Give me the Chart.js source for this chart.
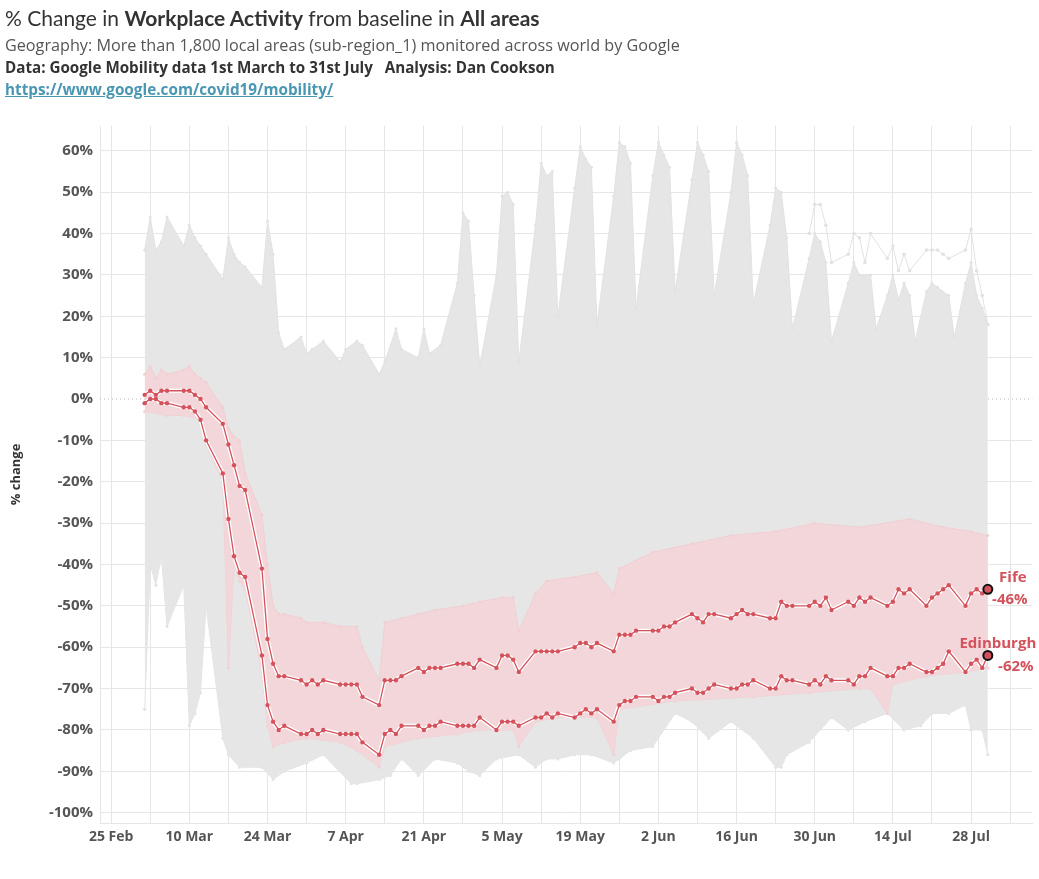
<!DOCTYPE html>
<html>
<head>
<meta charset="utf-8">
<script src="https://cdn.jsdelivr.net/npm/chart.js@4.4.1/dist/chart.umd.min.js"></script>
<style>
html,body{margin:0;padding:0;background:#fff;}
#wrap{position:relative;width:1039px;height:879px;overflow:hidden;}
#c{position:absolute;left:0;top:0;}
.hd{position:absolute;left:5px;white-space:nowrap;font-family:"Open Sans",sans-serif;}
#t1{top:5px;font-size:21px;color:#333;font-family:Lato,sans-serif;}
#t2{top:34px;font-size:16.2px;color:#555;}
#t3{top:57px;font-size:15.2px;color:#333;font-weight:bold;}
#t4{top:79px;font-size:15.3px;color:#4a97b3;font-weight:bold;text-decoration:underline;}
b{font-weight:bold;}
</style>
</head>
<body>
<div id="wrap">
<canvas id="c" width="1039" height="879"></canvas>
<div class="hd" id="t1">% Change in <b>Workplace Activity</b> from baseline in <b>All areas</b></div>
<div class="hd" id="t2">Geography: More than 1,800 local areas (sub-region_1) monitored across world by Google</div>
<div class="hd" id="t3">Data: Google Mobility data 1st March to 31st July&nbsp;&nbsp; Analysis: Dan Cookson</div>
<div class="hd" id="t4">https://www.google.com/covid19/mobility/</div>
</div>
<script>
// ---------- DATA ----------
const seriesDates = [
 '03-02','03-03','03-04','03-05','03-06','03-09','03-10','03-11','03-12','03-13',
 '03-16','03-17','03-18','03-19','03-20','03-23','03-24','03-25','03-26','03-27',
 '03-30','03-31','04-01','04-02','04-03','04-06','04-07','04-08','04-09','04-10',
 '04-13','04-14','04-15','04-16','04-17','04-20','04-21','04-22','04-23','04-24',
 '04-27','04-28','04-29','04-30','05-01','05-04','05-05','05-06','05-07','05-08',
 '05-11','05-12','05-13','05-14','05-15','05-18','05-19','05-20','05-21','05-22',
 '05-25','05-26','05-27','05-28','05-29','06-01','06-02','06-03','06-04','06-05',
 '06-08','06-09','06-10','06-11','06-12','06-15','06-16','06-17','06-18','06-19',
 '06-22','06-23','06-24','06-25','06-26','06-29','06-30','07-01','07-02','07-03',
 '07-06','07-07','07-08','07-09','07-10','07-13','07-14','07-15','07-16','07-17',
 '07-20','07-21','07-22','07-23','07-24','07-27','07-28','07-29','07-30','07-31'
];
const fifeValues = [
 1,2,1,2,2, 2,2,1,0,-2,
 -6,-11,-16,-21,-22, -41,-58,-64,-67,-67,
 -68,-69,-68,-69,-68, -69,-69,-69,-69,-72,
 -74,-68,-68,-68,-67, -65,-66,-65,-65,-65,
 -64,-64,-64,-65,-63, -65,-62,-62,-63,-66,
 -61,-61,-61,-61,-61, -60,-59,-59,-60,-59,
 -61,-57,-57,-57,-56, -56,-56,-55,-55,-54,
 -52,-53,-54,-52,-52, -53,-52,-51,-52,-52,
 -53,-53,-49,-50,-50, -50,-49,-50,-48,-51,
 -49,-50,-48,-49,-48, -50,-49,-46,-47,-46,
 -50,-48,-47,-46,-45, -50,-47,-46,-47,-46
];
const edinburghValues = [
 -1,0,0,-1,-1, -2,-2,-3,-5,-10,
 -18,-29,-38,-42,-43, -62,-74,-78,-80,-79,
 -81,-81,-80,-81,-80, -81,-81,-81,-81,-83,
 -86,-81,-80,-81,-79, -79,-80,-79,-79,-78,
 -79,-79,-79,-79,-77, -80,-78,-78,-78,-79,
 -77,-77,-76,-77,-76, -77,-76,-75,-76,-75,
 -78,-74,-73,-73,-72, -72,-73,-72,-72,-71,
 -70,-71,-71,-70,-69, -70,-70,-69,-69,-68,
 -70,-70,-67,-68,-68, -69,-68,-69,-67,-68,
 -68,-69,-67,-67,-65, -67,-67,-65,-65,-64,
 -66,-66,-65,-64,-61, -66,-64,-63,-65,-62
];

// outline of the grey cloud of all other areas (upper and lower edge)
const greyTopDates = ['03-02','03-03','03-04','03-05','03-06','03-09','03-10','03-11','03-12','03-13','03-16','03-17','03-18','03-19','03-20','03-23','03-24','03-25','03-26','03-27','03-30','03-31','04-01','04-03','04-06','04-07','04-09','04-10','04-13','04-14','04-16','04-17','04-20','04-21','04-22','04-24','04-27','04-28','04-29','04-30','05-01','05-04','05-05','05-06','05-07','05-08','05-11','05-12','05-13','05-14','05-15','05-18','05-19','05-20','05-21','05-22','05-25','05-26','05-27','05-28','05-29','06-01','06-02','06-03','06-04','06-05','06-08','06-09','06-10','06-11','06-12','06-15','06-16','06-17','06-18','06-19','06-22','06-23','06-24','06-25','06-26','06-29','06-30','07-01','07-02','07-03','07-06','07-07','07-08','07-10','07-11','07-13','07-14','07-15','07-16','07-17','07-18','07-20','07-21','07-22','07-24','07-25','07-27','07-28','07-29','07-30','07-31'];
const greyTopValues = [36,44,36,38,44,37,42,39,37,35,29,39,35,33,32,27,43,35,16,12,15,11,12,14,9,12,14,13,6,9,17,12,10,17,11,13,28,45,43,25,8,30,49,50,47,9,42,57,54,55,20,51,61,58,56,18,49,62,61,57,22,54,62,59,56,26,53,62,59,55,25,50,62,59,54,23,42,51,50,39,17,34,40,38,33,14,28,33,30,30,17,25,30,24,28,25,14,26,28,27,25,15,28,33,25,22,18];
const greyBottomDates = ['03-02','03-03','03-04','03-05','03-06','03-09','03-10','03-11','03-12','03-13','03-16','03-17','03-19','03-23','03-25','03-27','03-31','04-03','04-08','04-09','04-13','04-15','04-17','04-20','04-23','04-27','04-29','05-01','05-04','05-08','05-11','05-13','05-15','05-18','05-21','05-25','05-26','05-28','06-01','06-05','06-08','06-11','06-15','06-19','06-23','06-24','06-25','06-29','07-03','07-06','07-09','07-13','07-16','07-19','07-21','07-24','07-27','07-28','07-30','07-31'];
const greyBottomValues = [-75,-40,-45,-38,-55,-45,-79,-76,-71,-50,-82,-86,-89,-89,-92,-90,-88,-86,-93,-93,-92,-91,-87,-91,-87,-88,-90,-91,-87,-86,-89,-87,-87,-86,-86,-88,-87,-85,-84,-76,-78,-82,-78,-82,-89,-89,-86,-83,-77,-80,-78,-76,-80,-79,-76,-76,-74,-80,-80,-86];
// a single high outlier area visible above the cloud in July
const outlierDates = ['06-29','06-30','07-01','07-02','07-03','07-06','07-07','07-08','07-09','07-10','07-13','07-14','07-15','07-16','07-17','07-20','07-21','07-22','07-23','07-24','07-27','07-28','07-29','07-30','07-31'];
const outlierValues = [40,47,47,42,33,35,40,39,33,40,34,37,31,35,31,36,36,36,35,34,36,41,31,25,18];

// outline of the pink band of comparable areas
const pinkTopDates = ['03-02','03-03','03-04','03-05','03-06','03-09','03-10','03-11','03-12','03-13','03-16','03-17','03-18','03-19','03-20','03-23','03-24','03-25','03-26','03-27','03-30','03-31','04-03','04-06','04-09','04-10','04-13','04-14','04-17','04-20','04-23','04-28','05-01','05-05','05-07','05-08','05-11','05-13','05-18','05-22','05-25','05-26','06-01','06-08','06-15','06-23','06-30','07-08','07-17','07-23','07-28','07-31'];
const pinkTopValues = [6,8,5,7,6,7,8,6,5,4,-2,-7,-9,-10,-18,-28,-40,-50,-52,-52,-53,-54,-54,-55,-55,-60,-68,-54,-53,-52,-51,-50,-49,-48,-48,-56,-47,-44,-43,-42,-47,-41,-37,-35,-33,-32,-30,-31,-29,-31,-32,-33];
const pinkBottomDates = ['03-02','03-06','03-09','03-12','03-13','03-16','03-17','03-18','03-19','03-20','03-23','03-24','03-25','03-27','03-31','04-06','04-09','04-13','04-14','04-20','04-27','05-01','05-07','05-08','05-11','05-15','05-22','05-25','05-26','06-05','06-19','06-29','07-08','07-10','07-13','07-14','07-20','07-27','07-31'];
const pinkBottomValues = [-3,-4,-4,-5,-11,-20,-65,-40,-44,-46,-66,-79,-84,-83,-82,-83,-85,-89,-84,-82,-81,-80,-80,-84,-78,-77,-77,-86,-75,-73,-72,-71,-70,-70,-76,-69,-67,-66,-65];

const xTickLabels = ['25 Feb','10 Mar','24 Mar','7 Apr','21 Apr','5 May','19 May','2 Jun','16 Jun','30 Jun','14 Jul','28 Jul'];
const yTickValues = [60,50,40,30,20,10,0,-10,-20,-30,-40,-50,-60,-70,-80,-90,-100];
const seriesNames = ['Fife','Edinburgh'];

// ---------- helpers ----------
const ORIGIN = Date.UTC(2020,1,25);
function dayIndex(mmdd){const [m,d]=mmdd.split('-').map(Number);return (Date.UTC(2020,m-1,d)-ORIGIN)/86400000;}
function pts(dates, vals){return dates.map((d,i)=>({x:dayIndex(d),y:vals[i]}));}

const RED = 'rgb(212,82,92)';
const GREY = 'rgb(230,230,230)';
const PINK = 'rgb(243,214,217)';
const lastIdx = seriesDates.length-1;

const labelPlugin = {
  id:'endLabels',
  afterDatasetsDraw(chart){
    const ctx = chart.ctx;
    const specs = [
      {ds:8, name:seriesNames[0], vals:fifeValues, nameOff:[25,-12], valOff:[22,10]},
      {ds:9, name:seriesNames[1], vals:edinburghValues, nameOff:[10,-12], valOff:[28,11]}
    ];
    ctx.save();
    ctx.fillStyle = RED;
    ctx.font = 'bold 15px "Open Sans", sans-serif';
    ctx.textAlign='center'; ctx.textBaseline='middle';
    specs.forEach(s=>{
      const p = chart.getDatasetMeta(s.ds).data[lastIdx];
      ctx.fillText(s.name, p.x+s.nameOff[0], p.y+s.nameOff[1]);
      ctx.fillText(s.vals[lastIdx]+'%', p.x+s.valOff[0], p.y+s.valOff[1]);
    });
    ctx.restore();
  }
};

const fifePts = pts(seriesDates, fifeValues);
const edPts = pts(seriesDates, edinburghValues);

new Chart(document.getElementById('c'), {
  type:'line',
  data:{datasets:[
    {data:[{x:-2,y:0},{x:165,y:0}], borderColor:'#b8b8b8', borderWidth:1, borderDash:[1,3], pointRadius:0, order:20},
    {data:pts(greyTopDates,greyTopValues), borderColor:'#e2e2e2', borderWidth:1, pointRadius:1.5, pointBackgroundColor:'#e2e2e2', pointBorderWidth:0, backgroundColor:GREY, fill:2, tension:0, order:12},
    {data:pts(greyBottomDates,greyBottomValues), borderColor:'#e2e2e2', borderWidth:1, pointRadius:1.5, pointBackgroundColor:'#e2e2e2', pointBorderWidth:0, fill:false, tension:0, order:12},
    {data:pts(outlierDates,outlierValues), borderColor:'#e2e2e2', borderWidth:1, pointRadius:1.8, pointBackgroundColor:'#e2e2e2', pointBorderWidth:0, fill:false, order:11},
    {data:pts(pinkTopDates,pinkTopValues), borderColor:'#f0d0d3', borderWidth:1, pointRadius:1.5, pointBackgroundColor:'#f0d0d3', pointBorderWidth:0, backgroundColor:PINK, fill:5, order:10},
    {data:pts(pinkBottomDates,pinkBottomValues), borderColor:'#f0d0d3', borderWidth:1, pointRadius:1.5, pointBackgroundColor:'#f0d0d3', pointBorderWidth:0, fill:false, order:10},
    {data:fifePts, borderColor:'#ffffff', borderWidth:4, pointRadius:0, fill:false, order:6},
    {data:edPts, borderColor:'#ffffff', borderWidth:4, pointRadius:0, fill:false, order:6},
    {label:seriesNames[0], data:fifePts, borderColor:RED, borderWidth:1.3, fill:false, order:2,
      pointRadius:(c)=>c.dataIndex===lastIdx?4.5:2.2, pointBackgroundColor:RED,
      pointBorderColor:(c)=>c.dataIndex===lastIdx?'#111':RED, pointBorderWidth:(c)=>c.dataIndex===lastIdx?2:0},
    {label:seriesNames[1], data:edPts, borderColor:RED, borderWidth:1.3, fill:false, order:2,
      pointRadius:(c)=>c.dataIndex===lastIdx?4.5:2.2, pointBackgroundColor:RED,
      pointBorderColor:(c)=>c.dataIndex===lastIdx?'#111':RED, pointBorderWidth:(c)=>c.dataIndex===lastIdx?2:0}
  ]},
  options:{
    responsive:false, animation:false, devicePixelRatio:1,
    layout:{padding:{top:126,right:4,left:0,bottom:0}},
    plugins:{legend:{display:false}, tooltip:{enabled:false}},
    elements:{line:{tension:0}},
    scales:{
      x:{type:'linear', min:-2, max:165,
        afterBuildTicks(s){const t=[];for(let v=0;v<=161;v+=7)t.push({value:v});s.ticks=t;},
        afterFit(s){s.height=56;},
        grid:{color:'#e6e6e6', lineWidth:1, drawTicks:false},
        border:{display:true,color:'#e6e6e6'},
        ticks:{padding:6, maxRotation:0, autoSkip:false, color:'#555',
          font:{family:'"Open Sans", sans-serif', size:14, weight:'bold'},
          callback:(v)=> v%14===0 ? (xTickLabels[v/14]||'') : ''}
      },
      y:{min:-102.5, max:66,
        afterBuildTicks(s){s.ticks=yTickValues.map(v=>({value:v}));},
        afterFit(s){s.width=100;},
        grid:{color:(c)=>c.tick && c.tick.value===0?'rgba(0,0,0,0)':'#e6e6e6', lineWidth:1, drawTicks:false},
        border:{display:true,color:'#e6e6e6'},
        ticks:{padding:7, color:'#555', font:{family:'"Open Sans", sans-serif', size:15, weight:'bold'},
          callback:(v)=>v+'%'},
        title:{display:true, text:'% change', color:'#333', padding:{top:8,bottom:0},
          font:{family:'"Open Sans", sans-serif', size:13, weight:'bold'}}
      }
    }
  },
  plugins:[labelPlugin]
});
</script>
</body>
</html>
